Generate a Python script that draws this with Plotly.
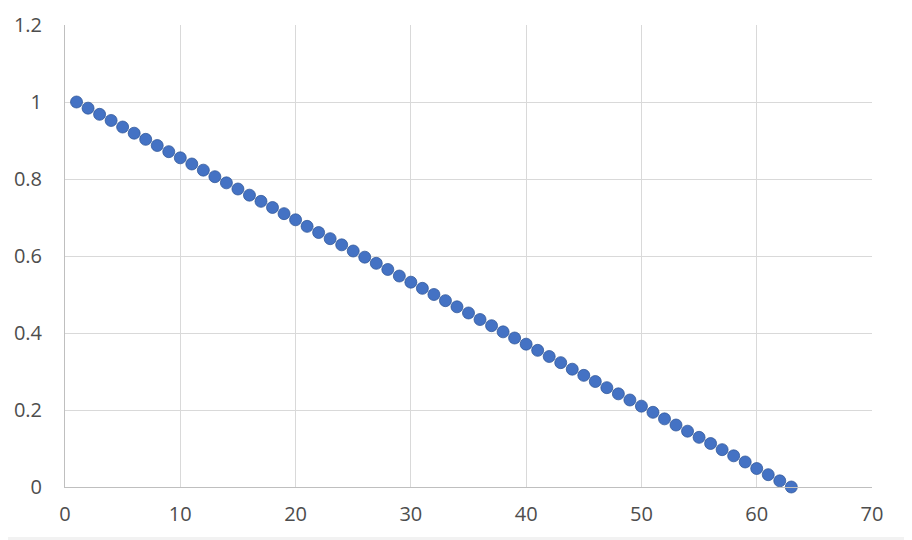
import plotly.graph_objects as go

x_values = list(range(1, 64))
y_values = [1.000, 0.984, 0.968, 0.952, 0.935, 0.919, 0.903, 0.887, 0.871, 0.855,
            0.839, 0.823, 0.806, 0.790, 0.774, 0.758, 0.742, 0.726, 0.710, 0.694,
            0.677, 0.661, 0.645, 0.629, 0.613, 0.597, 0.581, 0.565, 0.548, 0.532,
            0.516, 0.500, 0.484, 0.468, 0.452, 0.435, 0.419, 0.403, 0.387, 0.371,
            0.355, 0.339, 0.323, 0.306, 0.290, 0.274, 0.258, 0.242, 0.226, 0.210,
            0.194, 0.177, 0.161, 0.145, 0.129, 0.113, 0.097, 0.081, 0.065, 0.048,
            0.032, 0.016, 0.000]
x_ticks = [0, 10, 20, 30, 40, 50, 60, 70]
y_ticks = [0, 0.2, 0.4, 0.6, 0.8, 1, 1.2]
y_tick_labels = ["0", "0.2", "0.4", "0.6", "0.8", "1", "1.2"]

fig = go.Figure()
fig.add_trace(go.Scatter(
    x=x_values, y=y_values, mode="markers",
    marker=dict(size=12, color="#4472C4", line=dict(color="#2F5597", width=0.75)),
    cliponaxis=False, showlegend=False,
))

fig.add_shape(type="rect", xref="paper", yref="paper",
              x0=-0.0706, x1=1.0458, y0=-0.1082, y1=1.0368,
              fillcolor="white", line=dict(width=0), layer="below")

fig.update_layout(
    width=904, height=532,
    margin=dict(l=57, r=40, t=17, b=53),
    paper_bgcolor="#f2f2f2", plot_bgcolor="white",
    font=dict(family="Open Sans, Liberation Sans, sans-serif", size=20, color="#4d4d4d"),
)
fig.update_xaxes(range=[0, 70], tickvals=x_ticks, showgrid=True, gridcolor="#d9d9d9",
                 gridwidth=1, showline=True, linecolor="#bfbfbf", linewidth=1,
                 mirror=False, zeroline=False, ticks="outside", ticklen=9,
                 tickcolor="rgba(0,0,0,0)", automargin=False)
fig.update_yaxes(range=[0, 1.2], tickvals=y_ticks, ticktext=y_tick_labels, showgrid=True,
                 gridcolor="#d9d9d9", gridwidth=1, showline=True, linecolor="#bfbfbf",
                 linewidth=1, zeroline=False, ticks="outside", ticklen=18,
                 tickcolor="rgba(0,0,0,0)", automargin=False)

fig.write_html("out.html")
